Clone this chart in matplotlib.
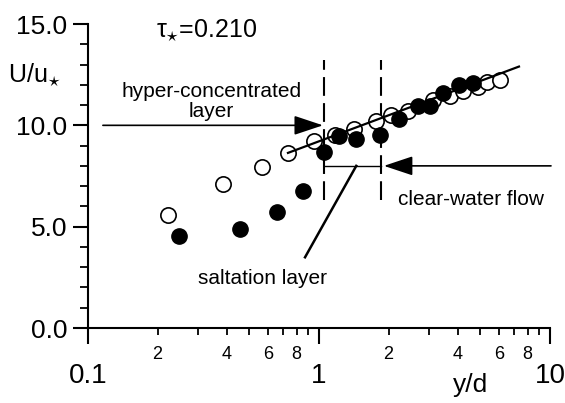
import matplotlib
matplotlib.use("Agg")
import matplotlib.pyplot as plt
from matplotlib import rc
from matplotlib.ticker import FixedLocator, FuncFormatter, MultipleLocator

rc('font', **{'family': 'sans-serif', 'sans-serif': ['Liberation Sans'], 'size': 15})
rc('mathtext', fontset='custom', rm='Liberation Sans', it='Liberation Sans', sf='Liberation Sans')

# velocity profile, tau* = 0.210
# open circles
yd_open = [0.223, 0.383, 0.565, 0.732, 0.954, 1.17, 1.42, 1.77, 2.05, 2.42,
           3.1, 3.7, 4.2, 4.9, 5.35, 6.05]
U_open = [5.60, 7.10, 7.96, 8.62, 9.22, 9.50, 9.80, 10.19, 10.52, 10.72,
          11.25, 11.45, 11.67, 11.88, 12.12, 12.22]
# filled circles
yd_full = [0.248, 0.455, 0.656, 0.850, 1.05, 1.22, 1.45, 1.84, 2.23, 2.67,
           3.02, 3.45, 4.05, 4.65]
U_full = [4.53, 4.88, 5.73, 6.77, 8.70, 9.45, 9.35, 9.53, 10.30, 10.95,
          10.95, 11.62, 12.0, 12.1]
# log-law fit
yd_fit = [0.734, 7.34]
U_fit = [8.64, 12.9]

# layer limits
yd_hc = 1.05      # top of saltation layer
yd_cw = 1.85      # start of clear-water flow
U_dash = [6.3, 13.2]
U_bracket = 8.0
U_hc_arrow = 10.0

x_major = [0.1, 1, 10]
x_minor = [k * d for d in (0.1, 1) for k in range(2, 10)]
y_major = [0, 5, 10, 15]

fig = plt.figure(figsize=(5.65, 4.03), dpi=100)
ax = fig.add_axes([88/565, 1 - 328/403, 462/565, 304/403])

ax.plot(yd_open, U_open, 'o', mfc='white', mec='k', mew=1.2, ms=11, ls='none', zorder=3)
ax.plot(yd_full, U_full, 'o', mfc='k', mec='k', ms=11, ls='none', zorder=4)
ax.plot(yd_fit, U_fit, 'k-', lw=1.6, zorder=5)

# layer boundaries
for yv in (yd_hc, yd_cw):
    ax.plot([yv, yv], U_dash, 'k', lw=1.5, dashes=(9, 3.5), zorder=2)
ax.plot([yd_hc, yd_cw], [U_bracket, U_bracket], 'k', lw=1.0)
ax.plot([0.87, 1.45], [3.49, U_bracket], 'k', lw=1.8)

arr = dict(arrowstyle='-|>,head_length=0.9,head_width=0.3', mutation_scale=20,
           color='k', lw=1.2, shrinkA=0, shrinkB=0)
ax.annotate('', xy=(1.04, U_hc_arrow), xytext=(0.116, U_hc_arrow), arrowprops=arr,
            annotation_clip=False)
ax.annotate('', xy=(1.91, U_bracket), xytext=(10.1, U_bracket), arrowprops=arr,
            annotation_clip=False)

ax.text(0.341, 11.19, 'hyper-concentrated\nlayer', ha='center', va='center',
        linespacing=1.05, fontsize=15)
ax.text(4.55, 6.36, 'clear-water flow', ha='center', va='center', fontsize=15)
ax.text(0.567, 2.45, 'saltation layer', ha='center', va='center', fontsize=15)
ax.text(0.325, 14.7, r'$\tau_{\star}$=0.210', ha='center', va='center', fontsize=18)

fig.text(8/565, 1 - 75/403, r'U/u$_{\star}$', ha='left', va='center', fontsize=18)
fig.text(471/565, 1 - 385/403, 'y/d', ha='center', va='center', fontsize=19)

ax.set_xscale('log')
ax.set_xlim(0.1, 10)
ax.set_ylim(0, 15)

ax.xaxis.set_major_locator(FixedLocator(x_major))
ax.xaxis.set_major_formatter(FuncFormatter(lambda v, p: '0.1' if v < 0.5 else '%d' % round(v)))
ax.xaxis.set_minor_locator(FixedLocator(x_minor))


def minor_lab(v, p):
    k = int(round(v / (0.1 if v < 1 else 1)))
    return str(k) if k in (2, 4, 6, 8) else ''


ax.xaxis.set_minor_formatter(FuncFormatter(minor_lab))
ax.yaxis.set_major_locator(FixedLocator(y_major))
ax.yaxis.set_major_formatter(FuncFormatter(lambda v, p: '%.1f' % v))
ax.yaxis.set_minor_locator(MultipleLocator(1))

ax.tick_params(axis='x', which='major', direction='out', length=11.5, width=1.5, pad=14, labelsize=20)
ax.tick_params(axis='x', which='minor', direction='out', length=5, width=1.3, pad=8, labelsize=13)
ax.tick_params(axis='y', which='major', direction='out', length=11, width=1.5, pad=4, labelsize=19)
ax.tick_params(axis='y', which='minor', direction='out', length=5.5, width=1.3)

for s in ('top', 'right'):
    ax.spines[s].set_visible(False)
for s in ('left', 'bottom'):
    ax.spines[s].set_linewidth(1.5)

fig.savefig('out.png', dpi=100)
